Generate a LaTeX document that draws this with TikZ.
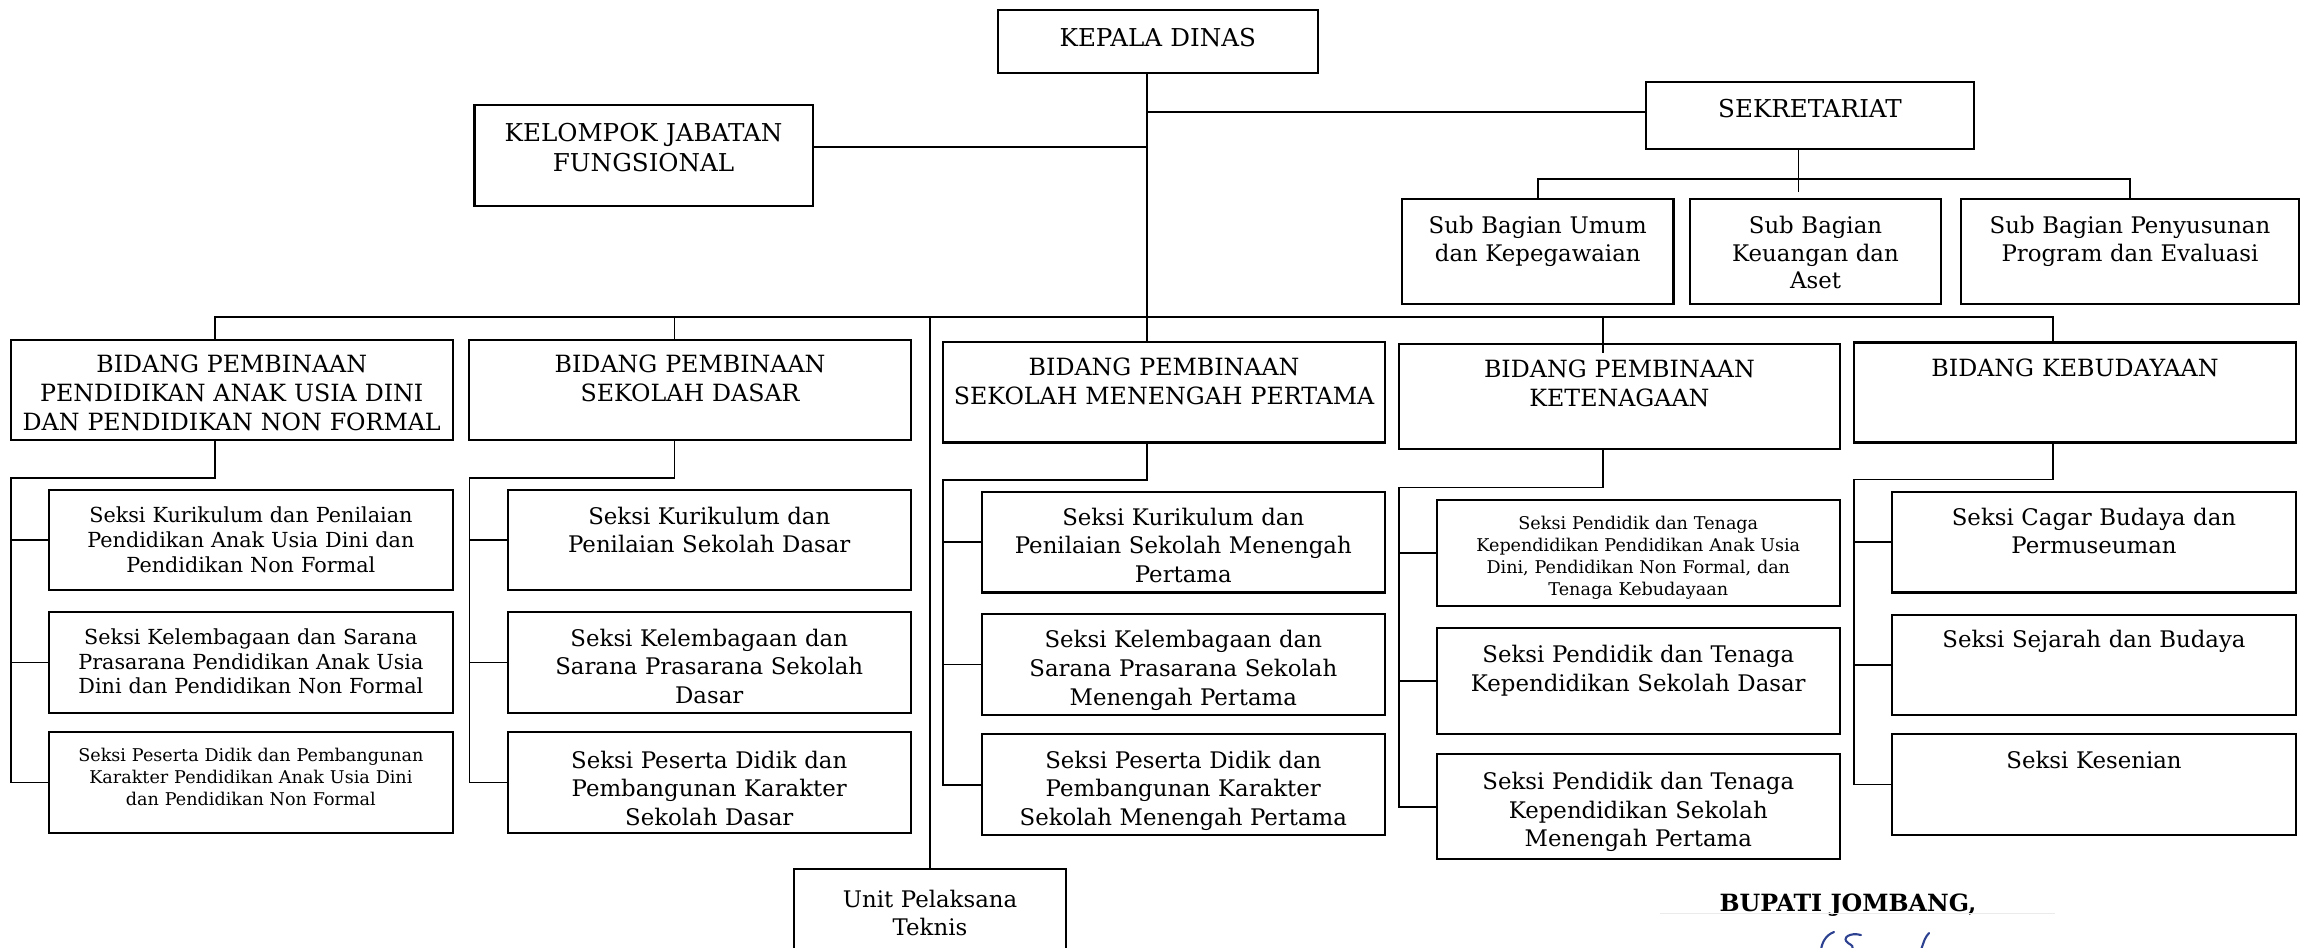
\documentclass[tikz,border=0pt]{standalone}
\usepackage{fontspec}
\setmainfont{DejaVu Serif}
\definecolor{ink}{RGB}{45,65,145}

\tikzset{
  box/.style={draw, line width=1.2pt, anchor=north, inner sep=0pt, align=center},
  boxdim/.style n args={3}{text width=#1mm, text height=#2mm, text depth=#3mm},
  conn/.style={line width=1pt},
  fhead/.style={font=\fontsize{14}{17.5}\selectfont},
  fbid/.style={font=\fontsize{13.5}{16.5}\selectfont},
  fsub/.style={font=\fontsize{13}{15.8}\selectfont},
  fsek/.style={font=\fontsize{13}{16.3}\selectfont},
  fpaud/.style={font=\fontsize{11.8}{14.2}\selectfont},
  ftiny/.style={font=\fontsize{10}{12.5}\selectfont},
}

\begin{document}
\begin{tikzpicture}[x=0.2mm,y=-0.2mm]
  \useasboundingbox (0,0) rectangle (2303,948);
  \fill[white] (0,0) rectangle (2303,948);

  % pimpinan dan sekretariat
  \node (kd) at (1157.8,9.3) [box,fhead,boxdim={63.92}{7.14}{5.34}] {KEPALA DINAS};
  \node (kjf) at (643.6,104) [box,fhead,boxdim={67.64}{7.2}{13}] {KELOMPOK JABATAN\\FUNGSIONAL};
  \node (sek) at (1810,80.7) [box,fhead,boxdim={65.6}{7.2}{6.32}] {SEKRETARIAT};
  \node (sbu) at (1537.75,198.3) [box,fsub,boxdim={54.3}{6.8}{14.08}] {Sub Bagian Umum\\dan Kepegawaian};
  \node (sbk) at (1815.5,198.3) [box,fsub,boxdim={50.2}{6.8}{14.08}] {Sub Bagian\\Keuangan dan\\Aset};
  \node (sbp) at (2130,198.3) [box,fsub,boxdim={67.6}{6.8}{14.08}] {Sub Bagian Penyusunan\\Program dan Evaluasi};

  % bidang
  \node (bpaud) at (231.7,339) [box,fbid,boxdim={88.36}{6.54}{13.52}] {BIDANG PEMBINAAN\\PENDIDIKAN ANAK USIA DINI\\DAN PENDIDIKAN NON FORMAL};
  \node (bsd) at (690.05,339) [box,fbid,boxdim={88.26}{6.54}{13.52}] {BIDANG PEMBINAAN\\SEKOLAH DASAR};
  \node (bsmp) at (1164.1,340.7) [box,fbid,boxdim={88.36}{6.72}{13.42}] {BIDANG PEMBINAAN\\SEKOLAH MENENGAH PERTAMA};
  \node (bket) at (1619.4,342.5) [box,fbid,boxdim={88.24}{6.7}{14.3}] {BIDANG PEMBINAAN\\KETENAGAAN};
  \node (bbud) at (2075,341.4) [box,fbid,boxdim={88.4}{6.8}{13.2}] {BIDANG KEBUDAYAAN};

  % seksi paud
  \node (paud1) at (250.9,489) [box,fpaud,boxdim={80.68}{6.48}{13.52}] {Seksi Kurikulum dan Penilaian\\Pendidikan Anak Usia Dini dan\\Pendidikan Non Formal};
  \node (paud2) at (250.9,611) [box,fpaud,boxdim={80.68}{6.4}{13.74}] {Seksi Kelembagaan dan Sarana\\Prasarana Pendidikan Anak Usia\\Dini dan Pendidikan Non Formal};
  \node (paud3) at (250.9,731) [box,ftiny,boxdim={80.68}{5.9}{14.24}] {Seksi Peserta Didik dan Pembangunan\\Karakter Pendidikan Anak Usia Dini\\dan Pendidikan Non Formal};

  % seksi sd
  \node (sd1) at (709.25,489) [box,fsek,boxdim={80.58}{6.8}{13.2}] {Seksi Kurikulum dan\\Penilaian Sekolah Dasar};
  \node (sd2) at (709.25,611) [box,fsek,boxdim={80.58}{6.8}{13.34}] {Seksi Kelembagaan dan\\Sarana Prasarana Sekolah\\Dasar};
  \node (sd3) at (709.25,731) [box,fsek,boxdim={80.58}{7.2}{12.94}] {Seksi Peserta Didik dan\\Pembangunan Karakter\\Sekolah Dasar};

  % seksi smp
  \node (smp1) at (1183.3,490.7) [box,fsek,boxdim={80.68}{6.7}{13.44}] {Seksi Kurikulum dan\\Penilaian Sekolah Menengah\\Pertama};
  \node (smp2) at (1183.3,613.2) [box,fsek,boxdim={80.68}{6.7}{13.44}] {Seksi Kelembagaan dan\\Sarana Prasarana Sekolah\\Menengah Pertama};
  \node (smp3) at (1183.3,733.2) [box,fsek,boxdim={80.68}{6.76}{13.46}] {Seksi Peserta Didik dan\\Pembangunan Karakter\\Sekolah Menengah Pertama};

  % seksi ketenagaan
  \node (ket1) at (1638.3,498.6) [box,ftiny,boxdim={80.68}{5.98}{15.22}] {Seksi Pendidik dan Tenaga\\Kependidikan Pendidikan Anak Usia\\Dini, Pendidikan Non Formal, dan\\Tenaga Kebudayaan};
  \node (ket2) at (1638.3,627) [box,fsek,boxdim={80.68}{6.94}{14.3}] {Seksi Pendidik dan Tenaga\\Kependidikan Sekolah Dasar};
  \node (ket3) at (1638.3,753.2) [box,fsek,boxdim={80.68}{7.06}{13.94}] {Seksi Pendidik dan Tenaga\\Kependidikan Sekolah\\Menengah Pertama};

  % seksi kebudayaan
  \node (bud1) at (2094,490.7) [box,fsek,boxdim={80.8}{6.7}{13.44}] {Seksi Cagar Budaya dan\\Permuseuman};
  \node (bud2) at (2094,613.6) [box,fsek,boxdim={80.8}{6.64}{13.36}] {Seksi Sejarah dan Budaya};
  \node (bud3) at (2094,733.2) [box,fsek,boxdim={80.8}{6.76}{13.32}] {Seksi Kesenian};

  \node (upt) at (930,867.7) [box,fsek,boxdim={54.4}{7.66}{11.8}] {Unit Pelaksana\\Teknis};

  % garis komando
  \coordinate (bus) at (1147,316.7);
  \coordinate (jsek) at (1147,111.7);
  \coordinate (jkjf) at (1147,146.7);
  \coordinate (jsub) at (1798.5,179.3);
  \coordinate (esub) at (1798.5,191.7);
  \coordinate (d1) at (215,316.7);
  \coordinate (d2) at (674.5,316.7);
  \coordinate (d3) at (930,316.7);
  \coordinate (d5) at (1602.7,316.7);
  \coordinate (d6) at (2053,316.7);
  \coordinate (e5) at (1602.7,353.3);
  \draw[conn] (kd.south -| bus) -- (bsmp.north -| bus);
  \draw[conn] (kjf.east |- jkjf) -- (jkjf) (jsek) -- (sek.west |- jsek);
  \draw[conn] (esub |- sek.south) -- (esub) (sbu.north) |- (jsub) -| (sbp.north);
  \draw[conn] (d1 |- bpaud.north) -- (d1) -- (d6) -- (d6 |- bbud.north);
  \draw[conn] (d2) -- (d2 |- bsd.north) (d3) -- (upt.north) (d5) -- (e5);

  % garis ke seksi
  \coordinate (cpaud) at (10.8,477.7);
  \coordinate (csd) at (469.4,477.7);
  \coordinate (csmp) at (943.2,480);
  \coordinate (cket) at (1398.8,487.5);
  \coordinate (cbud) at (1854,479.6);
  \draw[conn] (d1 |- bpaud.south) |- (cpaud) |- (paud3.west) (cpaud |- paud1.west) -- (paud1.west) (cpaud |- paud2.west) -- (paud2.west);
  \draw[conn] (d2 |- bsd.south) |- (csd) |- (sd3.west) (csd |- sd1.west) -- (sd1.west) (csd |- sd2.west) -- (sd2.west);
  \draw[conn] (bus |- bsmp.south) |- (csmp) |- (smp3.west) (csmp |- smp1.west) -- (smp1.west) (csmp |- smp2.west) -- (smp2.west);
  \draw[conn] (d5 |- bket.south) |- (cket) |- (ket3.west) (cket |- ket1.west) -- (ket1.west) (cket |- ket2.west) -- (ket2.west);
  \draw[conn] (d6 |- bbud.south) |- (cbud) |- (bud3.west) (cbud |- bud1.west) -- (bud1.west) (cbud |- bud2.west) -- (bud2.west);

  % tanda tangan
  \node (bup) at (1848,911.7) [anchor=base,font=\bfseries\fontsize{13.5}{16}\selectfont] {BUPATI JOMBANG,};
  \draw[black!8, line width=0.6pt] (1660,913.3) -- (2055,913.3);
  \draw[ink, line width=1.2pt, line cap=round] (1834,932) .. controls (1826,935) and (1822,942) .. (1821,950);
  \draw[ink, line width=1.2pt, line cap=round] (1861,935) .. controls (1850,932) and (1841,938) .. (1848,943) .. controls (1853,946) .. (1852,950);
  \draw[ink, line width=1.2pt, line cap=round] (1929,933) .. controls (1925,938) .. (1921,950);
\end{tikzpicture}
\end{document}
